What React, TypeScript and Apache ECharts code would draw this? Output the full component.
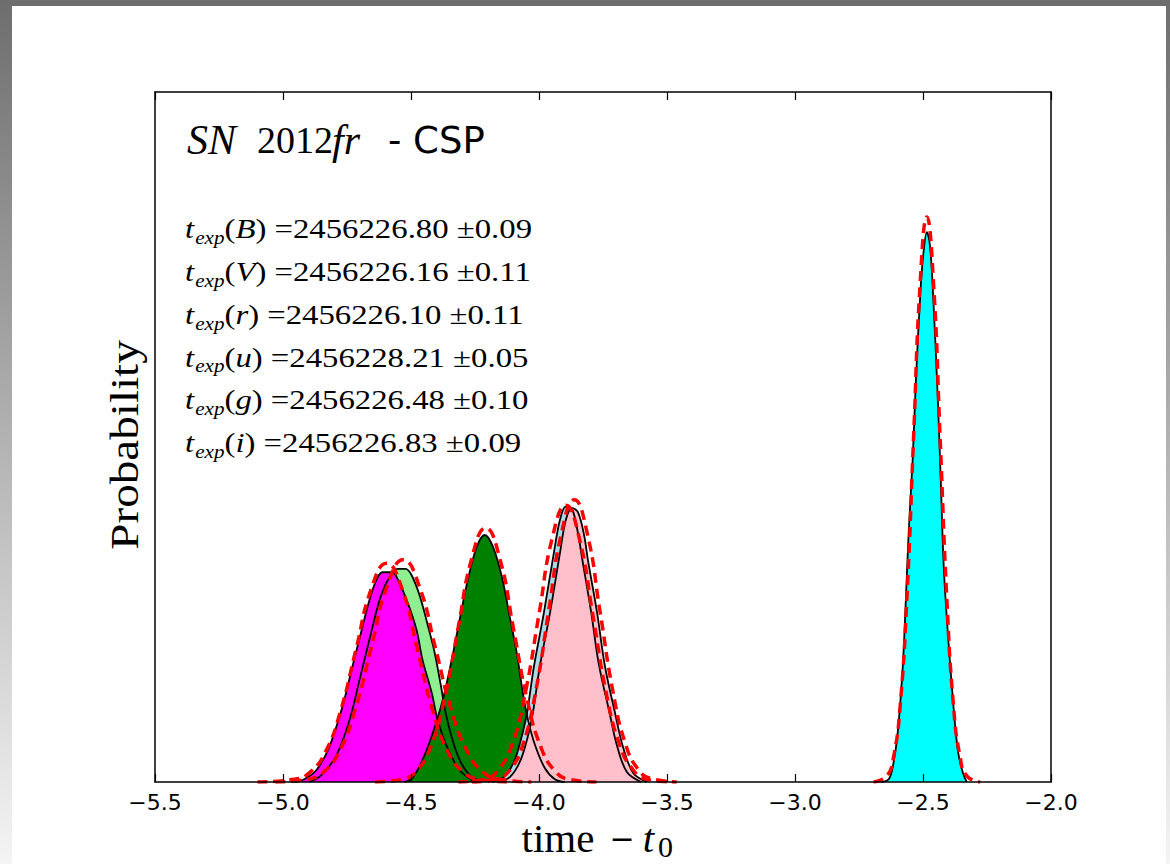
import React, { useEffect, useRef } from "react";
import * as echarts from "echarts";

// x axis (time − t0)
const X_MIN = -5.5;
const X_MAX = -2.0;
const X_STEP = 0.5;

// explosion-epoch estimates printed in the panel
const BANDS = ["B", "V", "r", "u", "g", "i"];
const T_EXP = [2456226.8, 2456226.16, 2456226.1, 2456228.21, 2456226.48, 2456226.83];
const T_ERR = [0.09, 0.11, 0.11, 0.05, 0.1, 0.09];

// posterior outlines: [time − t0, probability]
const PDF_LIGHTGREEN = [
  [-4.897, 0], [-4.85, 0.01], [-4.791, 0.039], [-4.74, 0.09], [-4.701, 0.148], [-4.658, 0.213],
  [-4.619, 0.268], [-4.58, 0.3], [-4.552, 0.309], [-4.521, 0.309], [-4.498, 0.3], [-4.466, 0.27],
  [-4.435, 0.228], [-4.408, 0.188], [-4.384, 0.141], [-4.365, 0.101], [-4.341, 0.065],
  [-4.31, 0.032], [-4.271, 0.01], [-4.224, 0],
];
const PDF_MAGENTA = [
  [-4.952, 0], [-4.917, 0.004], [-4.87, 0.017], [-4.819, 0.051], [-4.768, 0.109], [-4.729, 0.167],
  [-4.693, 0.22], [-4.662, 0.264], [-4.635, 0.293], [-4.611, 0.304], [-4.572, 0.304], [-4.556, 0.297],
  [-4.517, 0.264], [-4.478, 0.22], [-4.455, 0.177], [-4.419, 0.129], [-4.396, 0.09], [-4.357, 0.049],
  [-4.31, 0.017], [-4.251, 0],
];
const PDF_GREEN = [
  [-4.525, 0], [-4.494, 0.006], [-4.455, 0.032], [-4.415, 0.071], [-4.376, 0.119], [-4.341, 0.177],
  [-4.31, 0.235], [-4.278, 0.293], [-4.243, 0.341], [-4.212, 0.358], [-4.18, 0.341], [-4.145, 0.297],
  [-4.114, 0.239], [-4.087, 0.187], [-4.063, 0.129], [-4.043, 0.09], [-4.016, 0.054], [-3.977, 0.02],
  [-3.938, 0.004], [-3.899, 0],
];
const PDF_LIGHTBLUE = [
  [-4.184, 0], [-4.137, 0.007], [-4.098, 0.029], [-4.071, 0.061], [-4.047, 0.1], [-4.02, 0.167],
  [-3.981, 0.245], [-3.942, 0.332], [-3.918, 0.38], [-3.895, 0.399], [-3.871, 0.396], [-3.848, 0.361],
  [-3.832, 0.325], [-3.797, 0.248], [-3.766, 0.17], [-3.726, 0.103], [-3.695, 0.052], [-3.656, 0.014],
  [-3.601, 0],
];
const PDF_PINK = [
  [-4.161, 0], [-4.114, 0.007], [-4.075, 0.029], [-4.047, 0.061], [-4.024, 0.1], [-3.997, 0.167],
  [-3.957, 0.245], [-3.918, 0.332], [-3.895, 0.38], [-3.871, 0.397], [-3.848, 0.391], [-3.824, 0.358],
  [-3.809, 0.322], [-3.773, 0.245], [-3.742, 0.167], [-3.703, 0.1], [-3.672, 0.051], [-3.632, 0.013],
  [-3.578, 0],
];
const PDF_CYAN = [
  [-2.665, 0], [-2.634, 0.004], [-2.618, 0.022], [-2.599, 0.071], [-2.579, 0.167], [-2.567, 0.264],
  [-2.556, 0.361], [-2.54, 0.47], [-2.528, 0.58], [-2.509, 0.717], [-2.497, 0.771], [-2.485, 0.797],
  [-2.473, 0.778], [-2.462, 0.717], [-2.442, 0.554], [-2.43, 0.43], [-2.419, 0.312], [-2.403, 0.216],
  [-2.383, 0.119], [-2.364, 0.046], [-2.344, 0.013], [-2.329, 0],
];

// gaussian fits drawn as dashed red curves
const FIT_LIGHTGREEN = [
  [-5.03, 0], [-4.905, 0.004], [-4.843, 0.014], [-4.78, 0.044], [-4.718, 0.105], [-4.655, 0.195],
  [-4.593, 0.284], [-4.53, 0.322], [-4.468, 0.284], [-4.405, 0.195], [-4.343, 0.105], [-4.28, 0.044],
  [-4.218, 0.014], [-4.155, 0.004], [-4.03, 0],
];
const FIT_MAGENTA = [
  [-5.1, 0], [-4.955, 0.004], [-4.895, 0.014], [-4.835, 0.043], [-4.775, 0.103], [-4.715, 0.192],
  [-4.655, 0.28], [-4.595, 0.317], [-4.535, 0.28], [-4.475, 0.192], [-4.415, 0.103], [-4.355, 0.043],
  [-4.295, 0.014], [-4.235, 0.004], [-4.115, 0],
];
const FIT_GREEN = [
  [-4.64, 0], [-4.532, 0.004], [-4.478, 0.016], [-4.424, 0.05], [-4.37, 0.119], [-4.316, 0.223],
  [-4.262, 0.325], [-4.208, 0.368], [-4.154, 0.325], [-4.1, 0.223], [-4.046, 0.119], [-3.992, 0.05],
  [-3.938, 0.016], [-3.884, 0.004], [-3.776, 0],
];
const FIT_LIGHTBLUE = [
  [-4.315, 0], [-4.21, 0.004], [-4.158, 0.018], [-4.105, 0.054], [-4.053, 0.13], [-4.0, 0.243],
  [-3.948, 0.354], [-3.895, 0.401], [-3.843, 0.354], [-3.79, 0.243], [-3.738, 0.13], [-3.685, 0.054],
  [-3.633, 0.018], [-3.58, 0.004], [-3.475, 0],
];
const FIT_PINK = [
  [-4.262, 0], [-4.162, 0.005], [-4.112, 0.018], [-4.062, 0.055], [-4.012, 0.133], [-3.962, 0.248],
  [-3.912, 0.361], [-3.862, 0.409], [-3.812, 0.361], [-3.762, 0.248], [-3.712, 0.133], [-3.662, 0.055],
  [-3.612, 0.018], [-3.562, 0.005], [-3.462, 0],
];
const FIT_CYAN = [
  [-2.693, 0], [-2.641, 0.009], [-2.615, 0.036], [-2.589, 0.111], [-2.563, 0.266], [-2.537, 0.497],
  [-2.511, 0.723], [-2.485, 0.819], [-2.459, 0.723], [-2.433, 0.497], [-2.407, 0.266], [-2.381, 0.111],
  [-2.355, 0.036], [-2.329, 0.009], [-2.277, 0],
];

// back-to-front drawing order of the filled posteriors
const DISTS = [
  { fill: "#90ee90", pdf: PDF_LIGHTGREEN, fit: FIT_LIGHTGREEN },
  { fill: "#ff00ff", pdf: PDF_MAGENTA, fit: FIT_MAGENTA },
  { fill: "#008000", pdf: PDF_GREEN, fit: FIT_GREEN },
  { fill: "#add8e6", pdf: PDF_LIGHTBLUE, fit: FIT_LIGHTBLUE },
  { fill: "#ffc0cb", pdf: PDF_PINK, fit: FIT_PINK },
  { fill: "#00ffff", pdf: PDF_CYAN, fit: FIT_CYAN },
];

const SERIF = "Liberation Serif";
const SANS = "DejaVu Sans";

function fmtTick(v: number): string {
  return v < 0 ? "\u2212" + Math.abs(v).toFixed(1) : v.toFixed(1);
}

function bandGradient() {
  return new echarts.graphic.LinearGradient(0, 0, 0, 1, [
    { offset: 0, color: "#6e6e6e" },
    { offset: 1, color: "#f4f4f4" },
  ]);
}

export default function App() {
  const ref = useRef<HTMLDivElement>(null);

  useEffect(() => {
    const el = ref.current;
    if (!el) return;
    const chart = echarts.init(el, undefined, { renderer: "svg" });

    const fillSeries = DISTS.map((d) => ({
      type: "line",
      data: d.pdf,
      symbol: "none",
      smooth: 0.35,
      silent: true,
      lineStyle: { color: "#000", width: 1.8 },
      areaStyle: { color: d.fill, opacity: 1 },
      z: 2,
    }));
    const fitSeries = DISTS.map((d) => ({
      type: "line",
      data: d.fit,
      symbol: "none",
      smooth: 0.5,
      silent: true,
      lineStyle: { color: "#ff0000", width: 3.5, type: [10, 6] },
      z: 3,
    }));

    const annRich = {
      t: { fontFamily: SERIF, fontStyle: "italic", fontSize: 28, color: "#000" },
      sub: { fontFamily: SERIF, fontStyle: "italic", fontSize: 18, color: "#000", padding: [18, 0, 0, 1] },
      rm: { fontFamily: SERIF, fontSize: 28, color: "#000" },
      it: { fontFamily: SERIF, fontStyle: "italic", fontSize: 28, color: "#000" },
    };
    const annY0 = 229;
    const annDy = 42.8;
    const annotations = BANDS.map((b, i) => ({
      type: "text",
      x: 185,
      y: annY0 + i * annDy,
      scaleX: 1.17,
      z: 10,
      silent: true,
      style: {
        text: `{t|t}{sub|exp}{rm|(}{it|${b}}{rm|) =${T_EXP[i].toFixed(2)} \u00b1${T_ERR[i].toFixed(2)}}`,
        rich: annRich,
        align: "left",
        verticalAlign: "middle",
      },
    }));

    const title = {
      type: "text",
      x: 187,
      y: 140,
      z: 10,
      silent: true,
      style: {
        text: "{a|SN}{b|2012}{c|fr}{d|- CSP}",
        align: "left",
        verticalAlign: "middle",
        rich: {
          a: { fontFamily: SERIF, fontStyle: "italic", fontSize: 42, color: "#000", width: 70 },
          b: { fontFamily: SERIF, fontSize: 38, color: "#000", width: 75 },
          c: { fontFamily: SERIF, fontStyle: "italic", fontSize: 42, color: "#000", width: 56 },
          d: { fontFamily: SANS, fontSize: 37, color: "#000" },
        },
      },
    };

    const yTitle = {
      type: "text",
      x: 125,
      y: 445,
      rotation: Math.PI / 2,
      scaleX: 1.15,
      z: 10,
      silent: true,
      style: {
        text: "Probability",
        fontFamily: SERIF,
        fontSize: 41,
        fill: "#000",
        align: "center",
        verticalAlign: "middle",
      },
    };

    const frame = [
      { type: "rect", shape: { x: 0, y: 0, width: 12, height: 864 }, style: { fill: bandGradient() }, z: -10, silent: true },
      { type: "rect", shape: { x: 1166, y: 0, width: 4, height: 864 }, style: { fill: bandGradient() }, z: -10, silent: true },
      { type: "rect", shape: { x: 0, y: 0, width: 1170, height: 6 }, style: { fill: "#6e6e6e" }, z: -10, silent: true },
    ];

    const option = {
      animation: false,
      backgroundColor: "#ffffff",
      grid: { left: 155, top: 92, width: 896, height: 690, containLabel: false, outerBoundsMode: "none" },
      xAxis: [
        {
          type: "value",
          position: "bottom",
          min: X_MIN,
          max: X_MAX,
          interval: X_STEP,
          z: 5,
          axisLine: { show: true, onZero: false, lineStyle: { color: "#000", width: 1.5 } },
          axisTick: { show: true, inside: true, length: 8, lineStyle: { color: "#000", width: 1.2 } },
          axisLabel: { show: true, color: "#000", fontFamily: SANS, fontSize: 22, margin: 9, formatter: fmtTick },
          splitLine: { show: false },
          name: "{a|time}{m|\u2212}{it|t}{sub|0}",
          nameLocation: "middle",
          nameGap: 30,
          nameTextStyle: {
            rich: {
              a: { fontFamily: SERIF, fontSize: 41, color: "#000", width: 94 },
              m: { fontFamily: "DejaVu Serif", fontSize: 30, color: "#000", width: 34 },
              it: { fontFamily: SERIF, fontStyle: "italic", fontSize: 41, color: "#000", width: 19 },
              sub: { fontFamily: SERIF, fontSize: 30, color: "#000", padding: [16, 22, 0, 0] },
            },
          },
        },
        {
          type: "value",
          position: "top",
          min: X_MIN,
          max: X_MAX,
          interval: X_STEP,
          z: 5,
          axisLine: { show: true, onZero: false, lineStyle: { color: "#000", width: 1.5 } },
          axisTick: { show: true, inside: true, length: 8, lineStyle: { color: "#000", width: 1.2 } },
          axisLabel: { show: false },
          splitLine: { show: false },
        },
      ],
      yAxis: [
        {
          type: "value",
          position: "left",
          min: 0,
          max: 1,
          z: 5,
          axisLine: { show: true, onZero: false, lineStyle: { color: "#000", width: 1.5 } },
          axisTick: { show: false },
          axisLabel: { show: false },
          splitLine: { show: false },
        },
        {
          type: "value",
          position: "right",
          min: 0,
          max: 1,
          z: 5,
          axisLine: { show: true, onZero: false, lineStyle: { color: "#000", width: 1.5 } },
          axisTick: { show: false },
          axisLabel: { show: false },
          splitLine: { show: false },
        },
      ],
      graphic: [...frame, title, yTitle, ...annotations],
      series: [...fillSeries, ...fitSeries],
    };

    chart.setOption(option as any);
    return () => chart.dispose();
  }, []);

  return (
    <div
      ref={ref}
      style={{ position: "absolute", left: 0, top: 0, width: 1170, height: 864 }}
    />
  );
}
